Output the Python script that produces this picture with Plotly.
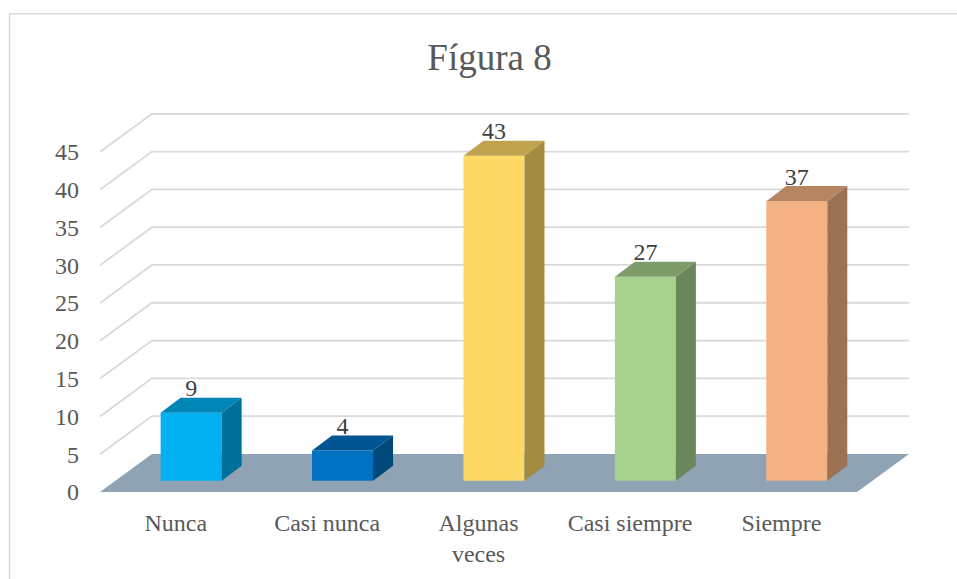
import plotly.graph_objects as go

categories = ["Nunca", "Casi nunca", "Algunas<br>veces", "Casi siempre", "Siempre"]
values = [9, 4, 43, 27, 37]
y_ticks = [0, 5, 10, 15, 20, 25, 30, 35, 40, 45]
colors = ["#00b0f0", "#0070c0", "#ffd966", "#a9d18e", "#f4b183"]
top_colors = ["#0086b6", "#005592", "#bfa34f", "#7f9d6b", "#b88562"]
side_colors = ["#00709a", "#00477a", "#a38b3f", "#6c865b", "#9d7254"]

FONT = "Liberation Serif"
GRID = "#d9d9d9"

# fake 3d: depth of the floor and of the bars, in axis units
floor_dx, floor_dy = 0.343, 5.04
bar_off_x, bar_off_y = 0.102, 1.48
bar_dx, bar_dy = 0.132, 2.0
bar_w = 0.403
label_drop = 0.6

x_min, x_max = -0.5, 4.843
y_max = 50.28

W, H = 957, 579
L, R, T, B = 100, 48, 112, 80

fig = go.Figure()

# front faces
fig.add_trace(go.Bar(
    x=[i + bar_off_x for i in range(5)],
    y=values,
    base=bar_off_y,
    width=bar_w,
    marker=dict(color=colors, line=dict(width=0)),
    hoverinfo="skip",
))

# top and side faces
for i, v in enumerate(values):
    x0 = i + bar_off_x - bar_w / 2
    x1 = i + bar_off_x + bar_w / 2
    y0 = bar_off_y
    y1 = bar_off_y + v
    fig.add_trace(go.Scatter(
        x=[x0, x1, x1 + bar_dx, x0 + bar_dx, x0],
        y=[y1, y1, y1 + bar_dy, y1 + bar_dy, y1],
        mode="lines", fill="toself", fillcolor=top_colors[i],
        line=dict(width=0), hoverinfo="skip",
    ))
    fig.add_trace(go.Scatter(
        x=[x1, x1 + bar_dx, x1 + bar_dx, x1, x1],
        y=[y0, y0 + bar_dy, y1 + bar_dy, y1, y0],
        mode="lines", fill="toself", fillcolor=side_colors[i],
        line=dict(width=0), hoverinfo="skip",
    ))

# data labels
fig.add_trace(go.Scatter(
    x=[i + bar_off_x for i in range(5)],
    y=[v + bar_off_y + bar_dy - label_drop for v in values],
    text=[str(v) for v in values],
    mode="text", textposition="top center",
    textfont=dict(family=FONT, size=24, color="#404040"),
    cliponaxis=False, hoverinfo="skip",
))

shapes = []
# back wall and side wall gridlines
for t in y_ticks[1:]:
    path = "M %f,%f L %f,%f L %f,%f" % (
        x_min, t, x_min + floor_dx, t + floor_dy, x_max, t + floor_dy)
    shapes.append(dict(type="path", path=path, layer="below",
                       line=dict(color=GRID, width=1.8)))
# floor
path = "M %f,0 L %f,0 L %f,%f L %f,%f Z" % (
    x_min, x_max - floor_dx, x_max, floor_dy, x_min + floor_dx, floor_dy)
shapes.append(dict(type="path", path=path, layer="below",
                   fillcolor="#8fa3b5", line=dict(width=0)))
# chart frame, only top and left show inside the window
plot_w = W - L - R
plot_h = H - T - B
shapes.append(dict(
    type="rect", xref="paper", yref="paper",
    x0=(9.5 - L) / plot_w, x1=(W + 20 - L) / plot_w,
    y0=-(B + 20) / plot_h, y1=(H - B - 12) / plot_h,
    layer="below", line=dict(color=GRID, width=1.5),
))

fig.update_layout(
    width=W, height=H,
    margin=dict(l=L, r=R, t=T, b=B),
    paper_bgcolor="white", plot_bgcolor="white",
    showlegend=False,
    shapes=shapes,
    title=dict(text="Fígura 8", x=489.5 / W, xanchor="center",
               y=1 - 57 / H, yanchor="middle",
               font=dict(family=FONT, size=37, color="#595959")),
    xaxis=dict(
        range=[x_min, x_max],
        tickmode="array", tickvals=list(range(5)), ticktext=categories,
        tickfont=dict(family=FONT, size=24, color="#595959"),
        showgrid=False, zeroline=False, showline=False, ticks="",
        ticklabelstandoff=14,
    ),
    yaxis=dict(
        range=[0, y_max],
        tickmode="array", tickvals=y_ticks,
        tickfont=dict(family=FONT, size=24, color="#595959"),
        showgrid=False, zeroline=False, showline=False, ticks="",
        ticklabelstandoff=20,
    ),
)

fig.write_html("out.html", post_script="document.body.style.margin='0';",
               config=dict(displayModeBar=False))
